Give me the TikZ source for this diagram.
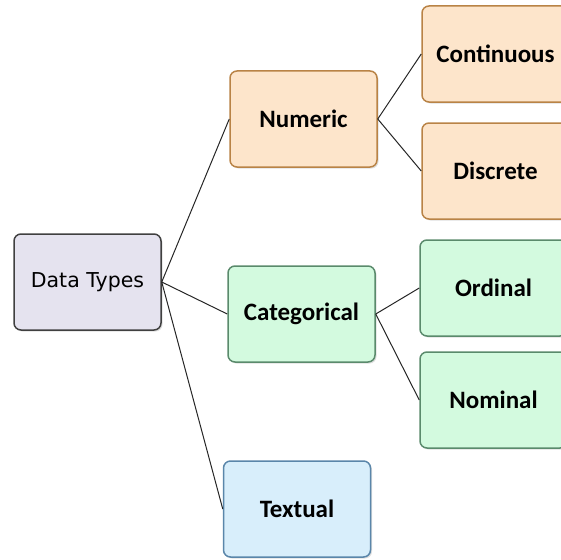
\documentclass[tikz,border=0pt]{standalone}
\usepackage{fontspec}
\setmainfont{DejaVu Sans}
\newfontfamily\labelfont{Carlito}
\usetikzlibrary{calc,shadows}
\tikzset{>=latex}

\definecolor{rootfill}{HTML}{E5E3EF}
\definecolor{numfill}{HTML}{FDE5CB}
\definecolor{numedge}{HTML}{B98346}
\definecolor{catfill}{HTML}{D3FADF}
\definecolor{catedge}{HTML}{5A8A6C}
\definecolor{txtfill}{HTML}{D8EEFB}
\definecolor{txtedge}{HTML}{5A86AA}

\tikzset{
    box/.style = {draw, rounded corners = 7pt, line width = 1.5pt, minimum width = 147pt, minimum height = 96pt, inner sep = 0pt,
                  drop shadow = {opacity = 0.25, shadow xshift = 1.5pt, shadow yshift = -1.5pt}},
    rootbox/.style = {box, draw = black!75, fill = rootfill, font = \fontsize{20.5}{24}\selectfont},
    numbox/.style = {box, draw = numedge, fill = numfill, font = \labelfont\bfseries\fontsize{25}{29}\selectfont},
    catbox/.style = {box, draw = catedge, fill = catfill, font = \labelfont\bfseries\fontsize{25}{29}\selectfont},
    txtbox/.style = {box, draw = txtedge, fill = txtfill, font = \labelfont\bfseries\fontsize{25}{29}\selectfont},
    link/.style = {draw = black!85, line width = 1pt}
}

\begin{document}
\begin{tikzpicture}[x = 1pt, y = -1pt]

    \useasboundingbox (0,0) rectangle (561,559);
    \clip (0,0) rectangle (561,559);

    % root
    \node[rootbox] (types) at (87.5, 282) {Data Types};

    % middle column
    \node[numbox] (numeric) at (303.5, 119) {Numeric};
    \node[catbox] (categorical) at (301.5, 314) {Categorical};
    \node[txtbox] (textual) at (297, 509) {Textual};

    % right column (cut at the border)
    \node[numbox] (continuous) at (495.5, 54) {Continuous};
    \node[numbox] (discrete) at (495.5, 171) {Discrete};
    \node[catbox] (ordinal) at (493.5, 288) {Ordinal};
    \node[catbox] (nominal) at (493.5, 400) {Nominal};

    % links
    \draw[link] (types.east) -- (numeric.west);
    \draw[link] (types.east) -- (categorical.west);
    \draw[link] (types.east) -- (textual.west);

    \draw[link] (numeric.east) -- (continuous.west);
    \draw[link] (numeric.east) -- (discrete.west);
    \draw[link] (categorical.east) -- (ordinal.west);
    \draw[link] (categorical.east) -- (nominal.west);

\end{tikzpicture}
\end{document}
